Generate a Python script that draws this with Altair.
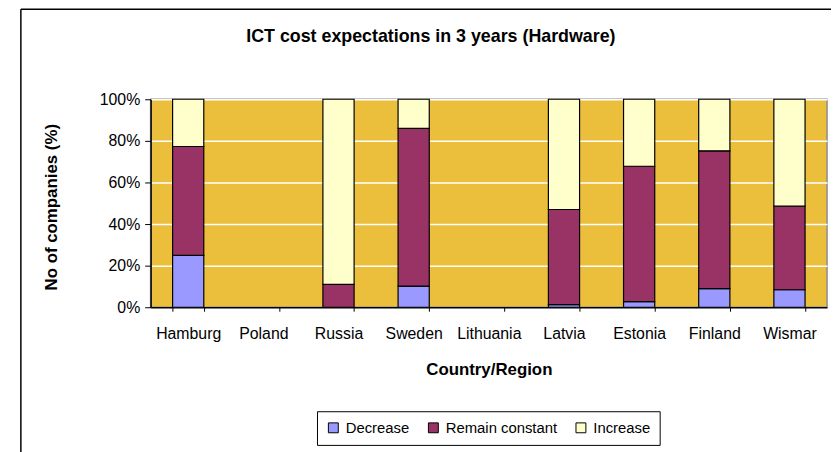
import altair as alt
import pandas as pd

countries = ["Hamburg", "Poland", "Russia", "Sweden", "Lithuania", "Latvia", "Estonia", "Finland", "Wismar"]
series_names = ["Decrease", "Remain constant", "Increase"]
series_colors = ["#9999FF", "#993366", "#FFFFCC"]

# percent of companies (Poland and Lithuania have no data)
decrease = [24.9, None, 0, 10.2, None, 1.3, 2.7, 9.0, 8.4]
remain = [52.4, None, 11.0, 75.8, None, 45.7, 65.1, 66.2, 40.2]
increase = [22.7, None, 89.0, 14.0, None, 53.0, 32.2, 24.8, 51.4]

title_text = "ICT cost expectations in 3 years (Hardware)"
x_title = "Country/Region"
y_title = "No of companies (%)"
y_ticks = [0, 20, 40, 60, 80, 100]

rows = []
for i, c in enumerate(countries):
    for order, (name, vals) in enumerate(zip(series_names, [decrease, remain, increase])):
        v = vals[i]
        if v:
            rows.append({"country": c, "series": name, "value": v, "order": order})
df = pd.DataFrame(rows)

FONT = "Liberation Sans"

bars = alt.Chart(df).mark_bar(stroke="black", strokeWidth=1.2).encode(
    x=alt.X(
        "country:N",
        sort=countries,
        scale=alt.Scale(domain=countries, paddingInner=0.585, paddingOuter=0.2925),
        axis=alt.Axis(
            title=x_title, labelAngle=0, tickBand="extent", grid=False,
            labelFont=FONT, labelFontSize=16, labelColor="black", labelPadding=15,
            tickColor="black", tickSize=4, domainColor="black", domainWidth=1.5,
            titleFont=FONT, titleFontSize=17, titleFontWeight="bold", titleColor="black",
            titlePadding=20,
        ),
    ),
    y=alt.Y(
        "value:Q",
        stack="zero",
        scale=alt.Scale(domain=[0, 100], nice=False),
        axis=alt.Axis(
            values=y_ticks, labelExpr="datum.value + '%'",
            title=y_title,
            labelFont=FONT, labelFontSize=16, labelColor="black", labelPadding=5,
            tickColor="black", tickSize=6, domainColor="black", domainWidth=1.5,
            gridColor="white", gridWidth=1.5, gridOpacity=1,
            titleFont=FONT, titleFontSize=17, titleFontWeight="bold", titleColor="black",
            titleAngle=270, titleX=-95, titleY=108.5, titleAlign="center",
            titleBaseline="alphabetic",
        ),
    ),
    color=alt.Color(
        "series:N",
        scale=alt.Scale(domain=series_names, range=series_colors),
        legend=alt.Legend(
            title=None, orient="none", legendX=168, legendY=315, direction="horizontal",
            strokeColor="black", fillColor="white", padding=9,
            symbolType="square", symbolSize=100, symbolStrokeColor="black",
            symbolStrokeWidth=1, symbolOpacity=1,
            labelFont=FONT, labelFontSize=15, labelColor="black",
            columnPadding=16, labelOffset=5,
        ),
    ),
    order=alt.Order("order:Q"),
)

title_mark = alt.Chart(alt.Data(values=[{"t": title_text}])).mark_text(
    font=FONT, fontSize=18, fontWeight="bold", color="black", align="center", baseline="alphabetic"
).encode(text="t:N", x=alt.value(283), y=alt.value(-58))

frame_left = alt.Chart(alt.Data(values=[{"k": 1}])).mark_rule(color="black", strokeWidth=1.5).encode(
    x=alt.value(-131), y=alt.value(-91), y2=alt.value(420)
)
frame_top = alt.Chart(alt.Data(values=[{"k": 1}])).mark_rule(color="black", strokeWidth=1.5).encode(
    x=alt.value(-131), x2=alt.value(720), y=alt.value(-91)
)

chart = alt.layer(bars, title_mark, frame_left, frame_top).properties(
    width=683,
    height=210,
    padding={"left": 144, "top": 90, "right": 4, "bottom": 144},
    autosize=alt.AutoSizeParams(type="none"),
).configure_view(fill="#EBBE3C", stroke="#8c8c8c", strokeWidth=1.5)

chart.save("out.html", embed_options={"renderer": "svg", "actions": False})
